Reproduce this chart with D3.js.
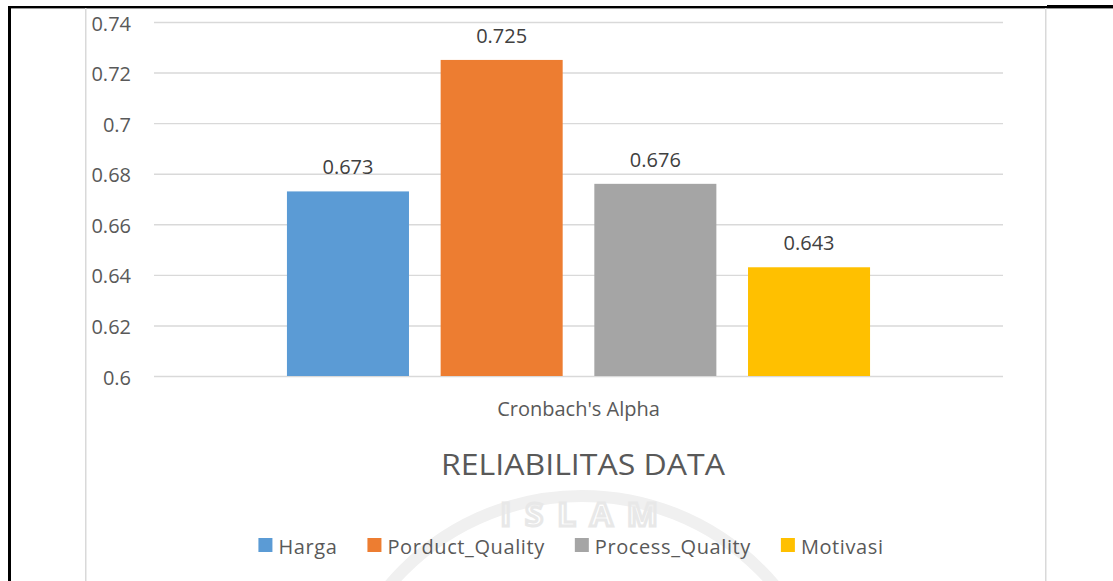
<!DOCTYPE html>
<html>
<head>
<meta charset="utf-8">
<script src="https://cdn.jsdelivr.net/npm/d3@7"></script>
<style>
  body { margin: 0; background: #fff; }
  text { font-family: "Open Sans", sans-serif; }
</style>
</head>
<body>
<div class="chart"></div>
<script>
// chart data
var categories = ["Cronbach's Alpha"];
var series = ["Harga", "Porduct_Quality", "Process_Quality", "Motivasi"];
var values = [0.673, 0.725, 0.676, 0.643];
var yTicks = [0.6, 0.62, 0.64, 0.66, 0.68, 0.7, 0.72, 0.74];
var colors = ["#5b9bd5", "#ed7d31", "#a5a5a5", "#ffc000"];
var title = "RELIABILITAS DATA";

var width = 1113;
var height = 581;
// plot area
var plot = { left: 154, right: 1003, top: 22, bottom: 376 };

const svg = d3.select(".chart")
              .append("svg")
              .attr("width", width)
              .attr("height", height);

// faint watermark behind the chart
var wm = svg.append("g").attr("id", "watermark");
wm.append("circle")
  .attr("cx", 582).attr("cy", 748).attr("r", 252)
  .attr("fill", "none")
  .attr("stroke", "#f0f0f0")
  .attr("stroke-width", 12);
wm.append("text")
  .attr("x", 586).attr("y", 526)
  .attr("text-anchor", "middle")
  .attr("font-size", 33)
  .attr("font-weight", 700)
  .attr("letter-spacing", 14)
  .attr("fill", "none")
  .attr("stroke", "#e8e8e8")
  .attr("stroke-width", 3)
  .text("ISLAM");

// page frame
svg.append("rect").attr("x", 8).attr("y", 6).attr("width", width - 8).attr("height", 2.4).attr("fill", "#000");
svg.append("rect").attr("x", 8).attr("y", 6).attr("width", 3).attr("height", height - 6).attr("fill", "#000");
svg.append("rect").attr("x", 1047).attr("y", 5).attr("width", width - 1047).attr("height", 3).attr("fill", "#000");
svg.append("rect").attr("x", 85).attr("y", 8).attr("width", 1.5).attr("height", height - 8).attr("fill", "#d9d9d9");
svg.append("rect").attr("x", 1045).attr("y", 8).attr("width", 1.5).attr("height", height - 8).attr("fill", "#d9d9d9");

// scales
var y = d3.scaleLinear()
          .domain([yTicks[0], yTicks[yTicks.length - 1]])
          .range([plot.bottom, plot.top]);

var x0 = d3.scaleBand()
           .domain(categories)
           .range([plot.left, plot.right])
           .paddingInner(0)
           .paddingOuter(0.228);

var x1 = d3.scaleBand()
           .domain(series)
           .range([0, x0.bandwidth()])
           .paddingInner(0.206)
           .paddingOuter(0);

var color = d3.scaleOrdinal().domain(series).range(colors);

// gridlines
var grid = svg.append("g")
              .attr("class", "grid")
              .attr("transform", "translate(" + plot.left + ",0)")
              .call(d3.axisRight(y).tickValues(yTicks).tickSize(plot.right - plot.left).tickFormat(""));
grid.select(".domain").remove();
grid.selectAll("line").attr("stroke", "#d9d9d9").attr("stroke-width", 1.4);

// y axis labels
var yAxis = svg.append("g")
               .attr("transform", "translate(" + plot.left + ",0)")
               .call(d3.axisLeft(y).tickValues(yTicks).tickSize(0).tickPadding(23)
                       .tickFormat(d => String(+d.toFixed(2))));
yAxis.select(".domain").remove();
yAxis.selectAll("text")
     .attr("font-family", "'Open Sans', sans-serif")
     .attr("font-size", 20)
     .attr("dy", "0.4em")
     .attr("fill", "#595959");

// category label
var xAxis = svg.append("g")
               .attr("transform", "translate(0," + plot.bottom + ")")
               .call(d3.axisBottom(x0).tickSize(0).tickPadding(26));
xAxis.select(".domain").remove();
xAxis.selectAll("text")
     .attr("font-family", "'Open Sans', sans-serif")
     .attr("font-size", 20)
     .attr("fill", "#595959");

// bars
var group = svg.selectAll(".cat")
               .data(categories)
               .enter()
               .append("g")
               .attr("class", "cat")
               .attr("transform", d => "translate(" + x0(d) + ",0)");

group.selectAll("rect")
     .data(series.map((s, i) => ({ name: s, value: values[i] })))
     .enter()
     .append("rect")
     .attr("x", d => x1(d.name))
     .attr("y", d => y(d.value))
     .attr("width", x1.bandwidth())
     .attr("height", d => y(yTicks[0]) - y(d.value))
     .attr("fill", d => color(d.name));

group.selectAll(".val")
     .data(series.map((s, i) => ({ name: s, value: values[i] })))
     .enter()
     .append("text")
     .attr("class", "val")
     .attr("x", d => x1(d.name) + x1.bandwidth() / 2)
     .attr("y", d => y(d.value) - 17)
     .attr("text-anchor", "middle")
     .attr("font-size", 20)
     .attr("fill", "#404040")
     .text(d => d.value);

// title
svg.append("text")
   .attr("x", 583)
   .attr("y", 475)
   .attr("text-anchor", "middle")
   .attr("font-size", 30)
   .attr("font-weight", 400)
   .attr("textLength", 284)
   .attr("lengthAdjust", "spacingAndGlyphs")
   .attr("fill", "#595959")
   .text(title);

// legend
var legend = svg.append("g").attr("id", "legend");
var items = legend.selectAll("g")
                  .data(series)
                  .enter()
                  .append("g");
items.append("rect")
     .attr("width", 14)
     .attr("height", 14)
     .attr("y", 538)
     .attr("fill", d => color(d));
items.append("text")
     .attr("x", 20)
     .attr("y", 554)
     .attr("font-size", 20)
     .attr("letter-spacing", 0.6)
     .attr("fill", "#595959")
     .text(d => d);

var lx = 0;
var offsets = [];
items.each(function (d) {
  offsets.push(lx);
  var w = d3.select(this).select("text").node().getComputedTextLength();
  lx += 20 + w + 30;
});
var total = lx - 30;
var start = 571 - total / 2;
items.attr("transform", (d, i) => "translate(" + (start + offsets[i]) + ",0)");
</script>
</body>
</html>
